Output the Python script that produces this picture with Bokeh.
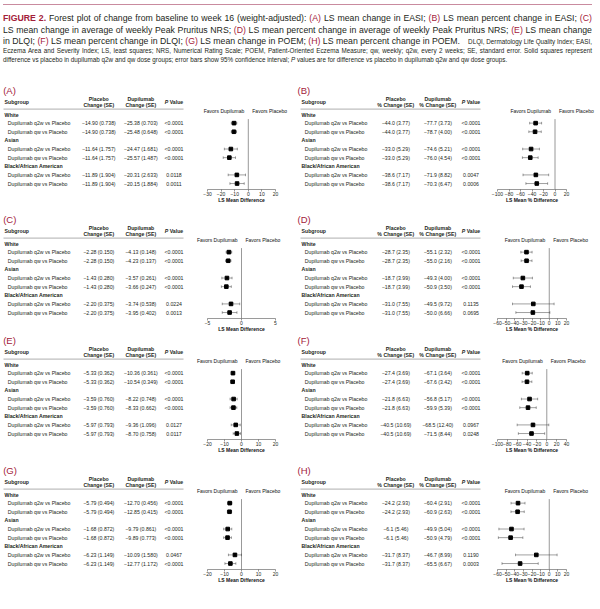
from bokeh.plotting import figure
from bokeh.models import Range1d, LinearAxis, FixedTicker, Div
from bokeh.layouts import column, row
from bokeh.core.properties import value
from bokeh.embed import file_html
from bokeh.resources import INLINE

# ---------------- data ----------------
groups = ["White", "Asian", "Black/African American"]
comparisons = ["Dupilumab q2w vs Placebo", "Dupilumab qw vs Placebo"]

A_placebo = [-14.90, -11.64, -11.89]
A_placebo_se = [0.738, 1.757, 1.904]
A_dupi = [-25.38, -25.48, -24.47, -25.57, -20.31, -20.15]
A_dupi_se = [0.703, 0.648, 1.681, 1.487, 2.633, 1.884]
A_p = ["<0.0001", "<0.0001", "<0.0001", "<0.0001", "0.0118", "0.0011"]
A_est = [-10.48, -10.58, -12.83, -13.93, -8.42, -8.26]
A_lo = [-12.48, -12.51, -17.60, -18.44, -14.79, -13.51]
A_hi = [-8.48, -8.65, -8.06, -9.42, -2.05, -3.01]
A_ticks = [-30, -20, -10, 0, 10, 20]

B_placebo = [-44.0, -33.0, -38.6]
B_placebo_se = [3.77, 5.29, 7.17]
B_dupi = [-77.7, -78.7, -74.6, -76.0, -71.9, -70.3]
B_dupi_se = [3.73, 4.00, 5.21, 4.54, 8.82, 6.47]
B_p = ["<0.0001", "<0.0001", "<0.0001", "<0.0001", "0.0047", "0.0006"]
B_est = [-33.7, -34.7, -41.6, -43.0, -33.3, -31.7]
B_lo = [-44.1, -45.5, -56.2, -56.7, -55.6, -50.6]
B_hi = [-23.3, -23.9, -27.1, -29.3, -11.0, -12.8]
B_ticks = [-100, -80, -60, -40, -20, 0, 20]

C_placebo = [-2.28, -1.43, -2.20]
C_placebo_se = [0.150, 0.280, 0.375]
C_dupi = [-4.13, -4.23, -3.57, -3.66, -3.74, -3.95]
C_dupi_se = [0.148, 0.137, 0.261, 0.247, 0.538, 0.402]
C_p = ["<0.0001", "<0.0001", "<0.0001", "<0.0001", "0.0224", "0.0013"]
C_est = [-1.85, -1.95, -2.14, -2.23, -1.54, -1.75]
C_lo = [-2.26, -2.35, -2.89, -2.96, -2.83, -2.83]
C_hi = [-1.44, -1.55, -1.39, -1.50, -0.26, -0.67]
C_ticks = [-5, 0, 5]

D_placebo = [-28.7, -18.7, -31.0]
D_placebo_se = [2.35, 3.99, 7.55]
D_dupi = [-55.1, -55.0, -49.3, -50.9, -49.5, -50.0]
D_dupi_se = [2.32, 2.16, 4.00, 3.50, 9.72, 6.66]
D_p = ["<0.0001", "<0.0001", "<0.0001", "<0.0001", "0.1135", "0.0695"]
D_est = [-26.4, -26.3, -30.6, -32.2, -18.5, -19.0]
D_lo = [-32.9, -32.6, -41.7, -42.6, -42.6, -38.7]
D_hi = [-19.9, -20.0, -19.5, -21.8, 5.6, 0.7]
D_ticks = [-60, -50, -40, -30, -20, -10, 0, 10, 20]

E_placebo = [-5.33, -3.59, -5.97]
E_placebo_se = [0.362, 0.760, 0.793]
E_dupi = [-10.36, -10.54, -8.22, -8.33, -9.36, -8.70]
E_dupi_se = [0.361, 0.349, 0.748, 0.662, 1.096, 0.758]
E_p = ["<0.0001", "<0.0001", "<0.0001", "<0.0001", "0.0127", "0.0117"]
E_est = [-5.03, -5.21, -4.63, -4.74, -3.39, -2.73]
E_lo = [-6.03, -6.20, -6.72, -6.72, -6.04, -4.88]
E_hi = [-4.03, -4.22, -2.54, -2.76, -0.74, -0.58]
E_ticks = [-20, -10, 0, 10, 20]

F_placebo = [-27.4, -21.8, -40.5]
F_placebo_se = [3.69, 6.63, 10.69]
F_dupi = [-67.1, -67.6, -56.8, -59.9, -68.5, -71.5]
F_dupi_se = [3.64, 3.42, 5.17, 5.39, 12.40, 8.44]
F_p = ["<0.0001", "<0.0001", "<0.0001", "<0.0001", "0.0967", "0.0248"]
F_est = [-39.7, -40.2, -35.0, -38.1, -28.0, -31.0]
F_lo = [-49.9, -50.1, -51.5, -54.8, -60.1, -57.7]
F_hi = [-29.5, -30.3, -18.5, -21.4, 4.1, -4.3]
F_ticks = [-100, -80, -60, -40, -20, 0, 20, 40]

G_placebo = [-5.79, -1.68, -6.23]
G_placebo_se = [0.494, 0.872, 1.149]
G_dupi = [-12.70, -12.85, -9.79, -9.89, -10.09, -12.77]
G_dupi_se = [0.456, 0.415, 0.861, 0.773, 1.580, 1.172]
G_p = ["<0.0001", "<0.0001", "<0.0001", "<0.0001", "0.0467", "<0.0001"]
G_est = [-6.91, -7.06, -8.11, -8.21, -3.86, -6.54]
G_lo = [-8.23, -8.32, -10.51, -10.49, -7.69, -9.76]
G_hi = [-5.59, -5.80, -5.71, -5.93, -0.03, -3.32]
G_ticks = [-20, -10, 0, 10, 20]

H_placebo = [-24.2, -6.1, -31.7]
H_placebo_se = [2.93, 5.46, 8.37]
H_dupi = [-60.4, -60.9, -49.9, -50.9, -46.7, -65.5]
H_dupi_se = [2.91, 2.63, 5.04, 4.79, 8.99, 6.67]
H_p = ["<0.0001", "<0.0001", "<0.0001", "<0.0001", "0.1190", "0.0003"]
H_est = [-36.2, -36.7, -43.8, -44.8, -15.0, -33.8]
H_lo = [-44.3, -44.4, -58.4, -59.0, -39.1, -54.8]
H_hi = [-28.1, -29.0, -29.2, -30.6, 9.1, -12.8]
H_ticks = [-60, -50, -40, -30, -20, -10, 0, 10, 20]

# ---------------- styling ----------------
FONT = "Liberation Sans"
TXT = "#231f20"
RED = "#a3203a"
ROW0 = 30.0
DY = 8.63
FS = "5.2px"
rows_y = [ROW0 + DY * i for i in range(9)]
data_idx = [1, 2, 4, 5, 7, 8]


def fmt(v, d):
    return f"{v:.{d}f}".replace("-", "\u2212")


def base_fig(w, h, xr):
    p = figure(width=w, height=h, x_range=xr, y_range=Range1d(h, 0),
               toolbar_location=None, output_backend="svg", min_border=0,
               x_axis_location=None, y_axis_location=None)
    p.xgrid.visible = False
    p.ygrid.visible = False
    p.outline_line_color = None
    p.background_fill_color = "white"
    p.border_fill_color = "white"
    return p


def table_fig(letter, side, h, pl, pl_se, du, du_se, pv, pct):
    if side == 0:
        w, ref_left, dx, lblx = 190, 0.0, 0.0, 2.7
    else:
        w, ref_left, dx, lblx = 192, 296.0, 297.0, 0.0
    X = lambda rx: rx + dx - ref_left
    p = base_fig(w, h, Range1d(0, w))
    d1, d2 = (1, 2) if pct else (2, 3)
    h2 = "% Change (SE)" if pct else "Change (SE)"
    p.text(x=[X(lblx)], y=[6.3], text=[f"({letter})"], text_font=value(FONT),
           text_font_size="9.5px", text_color=RED, text_baseline="middle", text_align="left")
    kw = dict(text_font=value(FONT), text_font_size=FS, text_color=TXT, text_baseline="middle")
    p.text(x=[X(4)], y=[17.3], text=["Subgroup"], text_align="left", text_font_style="bold", **kw)
    p.text(x=[X(98.3), X(98.3), X(140.3), X(140.3)], y=[14.6, 20.3, 14.6, 20.3],
           text=["Placebo", h2, "Dupilumab", h2], text_align="center", text_font_style="bold", **kw)
    p.text(x=[X(164.3)], y=[17.3], text=["P"], text_align="left", text_font_style="bold italic", **kw)
    p.text(x=[X(169.2)], y=[17.3], text=["Value"], text_align="left", text_font_style="bold", **kw)
    p.segment(x0=[X(3)], y0=[24.6], x1=[X(183)], y1=[24.6], line_color="#8c8c8c", line_width=0.7)
    p.text(x=[X(4)] * 3, y=[rows_y[0], rows_y[3], rows_y[6]], text=groups,
           text_align="left", text_font_style="bold", **kw)
    ys = [rows_y[i] for i in data_idx]
    p.text(x=[X(7.3)] * 6, y=ys, text=comparisons * 3, text_align="left", **kw)
    pl_txt = [f"{fmt(pl[i // 2], d1)} ({pl_se[i // 2]:.{d2}f})" for i in range(6)]
    du_txt = [f"{fmt(du[i], d1)} ({du_se[i]:.{d2}f})" for i in range(6)]
    p.text(x=[X(98.3)] * 6, y=ys, text=pl_txt, text_align="center", **kw)
    p.text(x=[X(140.3)] * 6, y=ys, text=du_txt, text_align="center", **kw)
    p.text(x=[X(173.5)] * 6, y=ys, text=pv, text_align="center", **kw)
    return p


def forest_fig(side, h, est, lo, hi, ticks, xlabel):
    if side == 0:
        w, ref_left, ax0, ax1 = 106, 190.0, 207.0, 275.0
    else:
        w, ref_left, ax0, ax1 = 112, 488.0, 497.0, 566.0
    t0, t1 = ticks[0], ticks[-1]
    k = (t1 - t0) / (ax1 - ax0)
    xs = t0 - (ax0 - ref_left) * k
    xe = t0 + (ref_left + w - ax0) * k
    p = base_fig(w, h, Range1d(xs, xe))
    ys = [rows_y[i] for i in data_idx]
    yax = ROW0 + 74.6
    p.segment(x0=[0], y0=[ROW0 + 4.6], x1=[0], y1=[yax], line_color="#7f7f7f", line_width=0.8)
    p.segment(x0=lo, y0=ys, x1=hi, y1=ys, line_color="#404040", line_width=0.5)
    p.segment(x0=lo, y0=[y - 1.3 for y in ys], x1=lo, y1=[y + 1.3 for y in ys],
              line_color="#404040", line_width=0.5)
    p.segment(x0=hi, y0=[y - 1.3 for y in ys], x1=hi, y1=[y + 1.3 for y in ys],
              line_color="#404040", line_width=0.5)
    p.scatter(x=est, y=ys, marker="square", size=3.6, color="black")
    ax = LinearAxis(fixed_location=yax, bounds=(t0, t1), ticker=FixedTicker(ticks=ticks),
                    major_label_overrides={t: fmt(t, 0) for t in ticks})
    ax.axis_line_color = "#555555"
    ax.axis_line_width = 0.6
    ax.major_tick_line_color = "#555555"
    ax.major_tick_line_width = 0.6
    ax.major_tick_out = 2
    ax.major_tick_in = 0
    ax.minor_tick_line_color = None
    ax.major_label_text_font = FONT
    ax.major_label_text_font_size = "5px"
    ax.major_label_text_color = TXT
    ax.major_label_standoff = 1
    p.add_layout(ax, "below")
    kw = dict(text_font=value(FONT), text_font_size="5px", text_color="#111111",
              text_baseline="middle")
    p.text(x=[0], y=[ROW0 - 3.7], text=["Favors Dupilumab"], text_align="right", x_offset=-4, **kw)
    p.text(x=[0], y=[ROW0 - 3.7], text=["Favors Placebo"], text_align="left", x_offset=4, **kw)
    p.text(x=[(t0 + t1) / 2], y=[ROW0 + 85.3], text=[xlabel], text_align="center",
           text_font_style="bold", **kw)
    return p


panels = [
    ("A", A_placebo, A_placebo_se, A_dupi, A_dupi_se, A_p, A_est, A_lo, A_hi, A_ticks, False),
    ("B", B_placebo, B_placebo_se, B_dupi, B_dupi_se, B_p, B_est, B_lo, B_hi, B_ticks, True),
    ("C", C_placebo, C_placebo_se, C_dupi, C_dupi_se, C_p, C_est, C_lo, C_hi, C_ticks, False),
    ("D", D_placebo, D_placebo_se, D_dupi, D_dupi_se, D_p, D_est, D_lo, D_hi, D_ticks, True),
    ("E", E_placebo, E_placebo_se, E_dupi, E_dupi_se, E_p, E_est, E_lo, E_hi, E_ticks, False),
    ("F", F_placebo, F_placebo_se, F_dupi, F_dupi_se, F_p, F_est, F_lo, F_hi, F_ticks, True),
    ("G", G_placebo, G_placebo_se, G_dupi, G_dupi_se, G_p, G_est, G_lo, G_hi, G_ticks, False),
    ("H", H_placebo, H_placebo_se, H_dupi, H_dupi_se, H_p, H_est, H_lo, H_hi, H_ticks, True),
]
row_heights = [129, 121, 130, 145]

# ---------------- caption ----------------
R = RED
SC = 0.9
MAINW = 589 / SC


def red(s):
    return f"<span style=\"color:{R}\">{s}</span>"


line_css = (f"position:absolute;left:3px;width:{MAINW:.1f}px;transform:scaleX({SC});"
            f"transform-origin:0 0;font-size:9.7px;line-height:11.4px;white-space:nowrap;"
            f"text-align:justify;text-align-last:justify")
small_css = "position:absolute;font-size:6.3px;line-height:8px;white-space:nowrap"
title_html = (
    f"<div style=\"position:relative;width:600px;height:84px;overflow:hidden;"
    f"font-family:'Liberation Sans',Arial,sans-serif;color:{TXT}\">"
    f"<div style=\"position:absolute;left:3px;top:4px;width:589px;height:0;border-top:1.5px solid #c98b9f\"></div>"
    f"<div style=\"{line_css};top:11.9px\">"
    f"<span style=\"color:{R};font-weight:bold\">FIGURE 2.</span> Forest plot of change from baseline to week 16 (weight-adjusted): "
    f"{red('(A)')} LS mean change in EASI; {red('(B)')} LS mean percent change in EASI; {red('(C)')}</div>"
    f"<div style=\"{line_css};top:23.6px\">"
    f"LS mean change in average of weekly Peak Pruritus NRS; {red('(D)')} LS mean percent change in average of weekly Peak Pruritus NRS; "
    f"{red('(E)')} LS mean change</div>"
    f"<div style=\"{line_css.replace('text-align:justify;text-align-last:justify', 'text-align:left')};top:34.7px\">"
    f"in DLQI; {red('(F)')} LS mean percent change in DLQI; {red('(G)')} LS mean change in POEM; "
    f"{red('(H)')} LS mean percent change in POEM.</div>"
    f"<div style=\"{small_css};right:8px;top:37.6px\">DLQI, Dermatology Life Quality Index; EASI,</div>"
    f"<div style=\"{small_css};left:3px;width:589px;top:47px;line-height:8.6px;text-align:justify;text-align-last:justify\">"
    f"Eczema Area and Severity Index; LS, least squares; NRS, Numerical Rating Scale; POEM, Patient-Oriented Eczema Measure; "
    f"qw, weekly; q2w, every 2 weeks; SE, standard error. Solid squares represent</div>"
    f"<div style=\"{small_css};left:3px;top:55.6px;line-height:8.6px\">"
    f"difference vs placebo in dupilumab q2w and qw dose groups; error bars show 95% confidence interval; "
    f"<i>P</i> values are for difference vs placebo in dupilumab q2w and qw dose groups.</div>"
    f"</div>"
)
title = Div(text=title_html, width=600, height=84, margin=(0, 0, 0, 0))

rows = []
for r in range(4):
    h = row_heights[r]
    figs = []
    for side in range(2):
        (letter, pl, pl_se, du, du_se, pv, est, lo, hi, ticks, pct) = panels[2 * r + side]
        figs.append(table_fig(letter, side, h, pl, pl_se, du, du_se, pv, pct))
        figs.append(forest_fig(side, h, est, lo, hi, ticks,
                               "LS Mean % Difference" if pct else "LS Mean Difference"))
    rows.append(row(*figs, spacing=0))

layout = column(title, *rows, spacing=0)
open("out.html", "w").write(file_html(layout, INLINE))
